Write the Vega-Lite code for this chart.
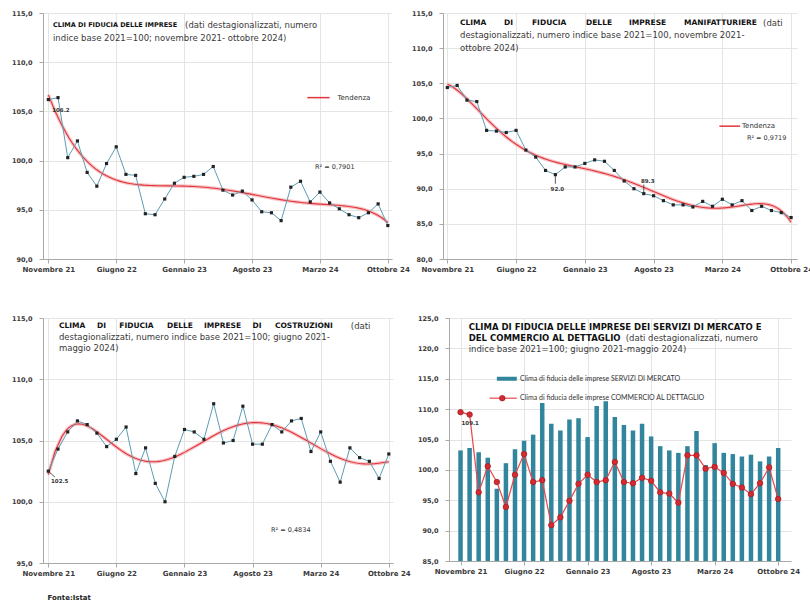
{
 "$schema": "https://vega.github.io/schema/vega-lite/v6.json",
 "background": "white",
 "padding": {"left": 11, "top": 10, "right": 0, "bottom": 0},
 "datasets": {
  "one": [{}],
  "p1": [
   {"t":0,"v":106.2},{"t":1,"v":106.4},{"t":2,"v":100.3},{"t":3,"v":102.0},{"t":4,"v":98.8},{"t":5,"v":97.4},
   {"t":6,"v":99.7},{"t":7,"v":101.4},{"t":8,"v":98.6},{"t":9,"v":98.5},{"t":10,"v":94.6},{"t":11,"v":94.5},
   {"t":12,"v":96.1},{"t":13,"v":97.7},{"t":14,"v":98.3},{"t":15,"v":98.4},{"t":16,"v":98.6},{"t":17,"v":99.4},
   {"t":18,"v":97.0},{"t":19,"v":96.5},{"t":20,"v":96.9},{"t":21,"v":96.0},{"t":22,"v":94.8},{"t":23,"v":94.7},
   {"t":24,"v":93.9},{"t":25,"v":97.3},{"t":26,"v":97.9},{"t":27,"v":95.8},{"t":28,"v":96.8},{"t":29,"v":95.7},
   {"t":30,"v":95.1},{"t":31,"v":94.5},{"t":32,"v":94.2},{"t":33,"v":94.7},{"t":34,"v":95.6},{"t":35,"v":93.4}
  ],
  "p2": [
   {"t":0,"v":104.4},{"t":1,"v":104.7},{"t":2,"v":102.6},{"t":3,"v":102.4},{"t":4,"v":98.3},{"t":5,"v":98.2},
   {"t":6,"v":98.0},{"t":7,"v":98.3},{"t":8,"v":95.5},{"t":9,"v":94.5},{"t":10,"v":92.6},{"t":11,"v":92.0},
   {"t":12,"v":93.1},{"t":13,"v":93.1},{"t":14,"v":93.6},{"t":15,"v":94.1},{"t":16,"v":93.9},{"t":17,"v":92.6},
   {"t":18,"v":91.1},{"t":19,"v":90.0},{"t":20,"v":89.3},{"t":21,"v":89.0},{"t":22,"v":88.3},{"t":23,"v":87.7},
   {"t":24,"v":87.7},{"t":25,"v":87.4},{"t":26,"v":88.2},{"t":27,"v":87.5},{"t":28,"v":88.5},{"t":29,"v":87.7},
   {"t":30,"v":88.3},{"t":31,"v":86.9},{"t":32,"v":87.5},{"t":33,"v":86.9},{"t":34,"v":86.6},{"t":35,"v":85.9}
  ],
  "p3": [
   {"t":0,"v":102.5},{"t":1,"v":104.3},{"t":2,"v":105.7},{"t":3,"v":106.6},{"t":4,"v":106.3},{"t":5,"v":105.6},
   {"t":6,"v":104.5},{"t":7,"v":105.1},{"t":8,"v":106.1},{"t":9,"v":102.3},{"t":10,"v":104.4},{"t":11,"v":101.5},
   {"t":12,"v":100.0},{"t":13,"v":103.7},{"t":14,"v":105.9},{"t":15,"v":105.7},{"t":16,"v":105.1},{"t":17,"v":108.0},
   {"t":18,"v":104.8},{"t":19,"v":105.0},{"t":20,"v":107.8},{"t":21,"v":104.7},{"t":22,"v":104.7},{"t":23,"v":106.3},
   {"t":24,"v":105.7},{"t":25,"v":106.6},{"t":26,"v":106.8},{"t":27,"v":104.1},{"t":28,"v":105.7},{"t":29,"v":103.3},
   {"t":30,"v":101.6},{"t":31,"v":104.4},{"t":32,"v":103.6},{"t":33,"v":103.3},{"t":34,"v":101.9},{"t":35,"v":103.9}
  ],
  "p4": [
   {"t":0,"s":103.2,"c":109.5},{"t":1,"s":103.6,"c":109.1},{"t":2,"s":102.9,"c":96.3},{"t":3,"s":102.0,"c":100.6},
   {"t":4,"s":96.9,"c":98.0},{"t":5,"s":101.1,"c":93.9},{"t":6,"s":103.4,"c":99.2},{"t":7,"s":104.8,"c":102.6},
   {"t":8,"s":105.8,"c":98.0},{"t":9,"s":111.0,"c":98.3},{"t":10,"s":107.6,"c":90.9},{"t":11,"s":106.5,"c":92.2},
   {"t":12,"s":108.3,"c":94.9},{"t":13,"s":108.5,"c":97.7},{"t":14,"s":105.4,"c":99.2},{"t":15,"s":110.5,"c":98.0},
   {"t":16,"s":111.3,"c":98.3},{"t":17,"s":108.7,"c":101.3},{"t":18,"s":107.4,"c":98.0},{"t":19,"s":106.5,"c":97.8},
   {"t":20,"s":107.6,"c":98.7},{"t":21,"s":105.5,"c":98.2},{"t":22,"s":103.9,"c":96.3},{"t":23,"s":103.2,"c":96.1},
   {"t":24,"s":102.8,"c":94.6},{"t":25,"s":103.9,"c":102.4},{"t":26,"s":106.4,"c":102.4},{"t":27,"s":100.8,"c":100.2},
   {"t":28,"s":104.4,"c":100.5},{"t":29,"s":102.8,"c":99.5},{"t":30,"s":102.6,"c":97.7},{"t":31,"s":102.2,"c":97.1},
   {"t":32,"s":102.5,"c":96.0},{"t":33,"s":101.4,"c":97.8},{"t":34,"s":102.2,"c":100.4},{"t":35,"s":103.6,"c":95.2}
  ]
 },
 "spacing": 43,
 "vconcat": [
  {"hconcat": [
   {"width": 349, "height": 246,
    "layer": [
     {"data": {"name": "p1"}, "transform": [{"regression": "v", "on": "t", "method": "poly", "order": 6}],
      "mark": {"type": "line", "color": "#f7c4c6", "strokeWidth": 3.5},
      "encoding": {
       "x": {"field": "t", "type": "quantitative", "scale": {"domain": [-0.55, 35.43], "nice": false, "zero": false},
             "axis": {"values": [0,7,14,21,28,35], "title": null, "grid": true, "labelExpr": "['Novembre 21','Giugno 22','Gennaio 23','Agosto 23','Marzo 24','Ottobre 24'][round(datum.value/7)]"}},
       "y": {"field": "v", "type": "quantitative", "scale": {"domain": [90, 115], "nice": false, "zero": false},
             "axis": {"values": [90,95,100,105,110,115], "tickCount": 6, "title": null, "grid": true, "labelOverlap": false, "labelSeparation": 0, "format": ".1f"}}}},
     {"data": {"name": "p1"}, "transform": [{"regression": "v", "on": "t", "method": "poly", "order": 6}],
      "mark": {"type": "line", "color": "#e0353c", "strokeWidth": 1.1},
      "encoding": {"x": {"field": "t", "type": "quantitative"}, "y": {"field": "v", "type": "quantitative"}}},
     {"data": {"name": "p1"}, "mark": {"type": "line", "color": "#5e9cb3", "strokeWidth": 1},
      "encoding": {"x": {"field": "t", "type": "quantitative"}, "y": {"field": "v", "type": "quantitative"}}},
     {"data": {"name": "p1"}, "mark": {"type": "point", "shape": "square", "filled": true, "color": "#222222", "size": 10, "opacity": 1},
      "encoding": {"x": {"field": "t", "type": "quantitative"}, "y": {"field": "v", "type": "quantitative"}}},
     {"data": {"name": "one"}, "mark": {"type": "text", "text": "CLIMA DI FIDUCIA DELLE IMPRESE", "align": "left", "baseline": "middle", "fontSize": 6.5, "fontWeight": "bold", "color": "#111111"},
      "encoding": {"x": {"datum": 0.48}, "y": {"datum": 113.8}}},
     {"data": {"name": "one"}, "mark": {"type": "text", "text": "(dati destagionalizzati, numero", "align": "left", "baseline": "middle", "fontSize": 8.5, "color": "#3a3a3a"},
      "encoding": {"x": {"datum": 14.1}, "y": {"datum": 113.8}}},
     {"data": {"name": "one"}, "mark": {"type": "text", "text": "indice base 2021=100; novembre 2021- ottobre 2024)", "align": "left", "baseline": "middle", "fontSize": 8.5, "color": "#3a3a3a"},
      "encoding": {"x": {"datum": 0.48}, "y": {"datum": 112.5}}},
     {"data": {"name": "one"}, "mark": {"type": "rule", "color": "#e0353c", "strokeWidth": 1.5},
      "encoding": {"x": {"datum": 26.7}, "x2": {"datum": 29.0}, "y": {"datum": 106.4}}},
     {"data": {"name": "one"}, "mark": {"type": "text", "text": "Tendenza", "align": "left", "baseline": "middle", "fontSize": 7, "color": "#333333"},
      "encoding": {"x": {"datum": 29.8}, "y": {"datum": 106.4}}},
     {"data": {"name": "one"}, "mark": {"type": "text", "text": "R² = 0,7901", "align": "left", "baseline": "middle", "fontSize": 6.5, "color": "#333333"},
      "encoding": {"x": {"datum": 27.5}, "y": {"datum": 99.3}}},
     {"data": {"name": "one"}, "mark": {"type": "text", "text": "106.2", "align": "left", "baseline": "middle", "fontSize": 5.5, "fontWeight": "bold", "color": "#333333"},
      "encoding": {"x": {"datum": 0.4}, "y": {"datum": 105.1}}}
    ]},
   {"width": 354, "height": 246,
    "layer": [
     {"data": {"name": "p2"}, "transform": [{"regression": "v", "on": "t", "method": "poly", "order": 6}],
      "mark": {"type": "line", "color": "#f7c4c6", "strokeWidth": 3.5},
      "encoding": {
       "x": {"field": "t", "type": "quantitative", "scale": {"domain": [-0.44, 35.6], "nice": false, "zero": false},
             "axis": {"values": [0,7,14,21,28,35], "title": null, "grid": true, "labelExpr": "['Novembre 21','Giugno 22','Gennaio 23','Agosto 23','Marzo 24','Ottobre 24'][round(datum.value/7)]"}},
       "y": {"field": "v", "type": "quantitative", "scale": {"domain": [80, 115], "nice": false, "zero": false},
             "axis": {"values": [80,85,90,95,100,105,110,115], "tickCount": 8, "title": null, "grid": true, "labelOverlap": false, "labelSeparation": 0, "format": ".1f"}}}},
     {"data": {"name": "p2"}, "transform": [{"regression": "v", "on": "t", "method": "poly", "order": 6}],
      "mark": {"type": "line", "color": "#e0353c", "strokeWidth": 1.1},
      "encoding": {"x": {"field": "t", "type": "quantitative"}, "y": {"field": "v", "type": "quantitative"}}},
     {"data": {"name": "p2"}, "mark": {"type": "line", "color": "#5e9cb3", "strokeWidth": 1},
      "encoding": {"x": {"field": "t", "type": "quantitative"}, "y": {"field": "v", "type": "quantitative"}}},
     {"data": {"name": "p2"}, "mark": {"type": "point", "shape": "square", "filled": true, "color": "#222222", "size": 10, "opacity": 1},
      "encoding": {"x": {"field": "t", "type": "quantitative"}, "y": {"field": "v", "type": "quantitative"}}},
     {"data": {"name": "one"}, "mark": {"type": "text", "text": "CLIMA", "align": "left", "baseline": "middle", "fontSize": 7.5, "fontWeight": "bold", "color": "#111111"},
      "encoding": {"x": {"datum": 1.29}, "y": {"datum": 113.58}}},
     {"data": {"name": "one"}, "mark": {"type": "text", "text": "DI", "align": "left", "baseline": "middle", "fontSize": 7.5, "fontWeight": "bold", "color": "#111111"},
      "encoding": {"x": {"datum": 5.77}, "y": {"datum": 113.58}}},
     {"data": {"name": "one"}, "mark": {"type": "text", "text": "FIDUCIA", "align": "left", "baseline": "middle", "fontSize": 7.5, "fontWeight": "bold", "color": "#111111"},
      "encoding": {"x": {"datum": 8.62}, "y": {"datum": 113.58}}},
     {"data": {"name": "one"}, "mark": {"type": "text", "text": "DELLE", "align": "left", "baseline": "middle", "fontSize": 7.5, "fontWeight": "bold", "color": "#111111"},
      "encoding": {"x": {"datum": 14.12}, "y": {"datum": 113.58}}},
     {"data": {"name": "one"}, "mark": {"type": "text", "text": "IMPRESE", "align": "left", "baseline": "middle", "fontSize": 7.5, "fontWeight": "bold", "color": "#111111"},
      "encoding": {"x": {"datum": 18.5}, "y": {"datum": 113.58}}},
     {"data": {"name": "one"}, "mark": {"type": "text", "text": "MANIFATTURIERE", "align": "left", "baseline": "middle", "fontSize": 7.5, "fontWeight": "bold", "color": "#111111"},
      "encoding": {"x": {"datum": 24.1}, "y": {"datum": 113.58}}},
     {"data": {"name": "one"}, "mark": {"type": "text", "text": "(dati", "align": "left", "baseline": "middle", "fontSize": 8.5, "color": "#3a3a3a"},
      "encoding": {"x": {"datum": 32.15}, "y": {"datum": 113.58}}},
     {"data": {"name": "one"}, "mark": {"type": "text", "text": "destagionalizzati, numero indice base 2021=100, novembre 2021-", "align": "left", "baseline": "middle", "fontSize": 8.5, "color": "#3a3a3a"},
      "encoding": {"x": {"datum": 1.29}, "y": {"datum": 111.8}}},
     {"data": {"name": "one"}, "mark": {"type": "text", "text": "ottobre 2024)", "align": "left", "baseline": "middle", "fontSize": 8.5, "color": "#3a3a3a"},
      "encoding": {"x": {"datum": 1.29}, "y": {"datum": 110.0}}},
     {"data": {"name": "one"}, "mark": {"type": "rule", "color": "#e0353c", "strokeWidth": 1.5},
      "encoding": {"x": {"datum": 27.7}, "x2": {"datum": 29.8}, "y": {"datum": 98.9}}},
     {"data": {"name": "one"}, "mark": {"type": "text", "text": "Tendenza", "align": "left", "baseline": "middle", "fontSize": 7, "color": "#333333"},
      "encoding": {"x": {"datum": 30.0}, "y": {"datum": 98.9}}},
     {"data": {"name": "one"}, "mark": {"type": "text", "text": "R² = 0,9719", "align": "left", "baseline": "middle", "fontSize": 6.5, "color": "#333333"},
      "encoding": {"x": {"datum": 30.5}, "y": {"datum": 97.2}}},
     {"data": {"name": "one"}, "mark": {"type": "rule", "color": "#333333", "strokeWidth": 0.8},
      "encoding": {"x": {"datum": 11}, "y": {"datum": 91.8}, "y2": {"datum": 90.7}}},
     {"data": {"name": "one"}, "mark": {"type": "text", "text": "92.0", "align": "center", "baseline": "middle", "fontSize": 5.5, "fontWeight": "bold", "color": "#333333"},
      "encoding": {"x": {"datum": 11.2}, "y": {"datum": 90.0}}},
     {"data": {"name": "one"}, "mark": {"type": "rule", "color": "#333333", "strokeWidth": 0.8},
      "encoding": {"x": {"datum": 20}, "y": {"datum": 89.5}, "y2": {"datum": 90.6}}},
     {"data": {"name": "one"}, "mark": {"type": "text", "text": "89.3", "align": "center", "baseline": "middle", "fontSize": 5.5, "fontWeight": "bold", "color": "#333333"},
      "encoding": {"x": {"datum": 20.4}, "y": {"datum": 91.1}}}
    ]}
  ], "spacing": 1},
  {"hconcat": [
   {"width": 350, "height": 245,
    "layer": [
     {"data": {"name": "p3"}, "transform": [{"regression": "v", "on": "t", "method": "poly", "order": 6}],
      "mark": {"type": "line", "color": "#f7c4c6", "strokeWidth": 3.5},
      "encoding": {
       "x": {"field": "t", "type": "quantitative", "scale": {"domain": [-0.54, 35.43], "nice": false, "zero": false},
             "axis": {"values": [0,7,14,21,28,35], "grid": true, "labelExpr": "['Novembre 21','Giugno 22','Gennaio 23','Agosto 23','Marzo 24','Ottobre 24'][round(datum.value/7)]",
                      "title": "Fonte:Istat", "titleAnchor": "start", "titleAlign": "left", "titleBaseline": "middle", "titleX": 4, "titleY": 34, "titleFontSize": 7, "titleFontWeight": "bold", "titleColor": "#222222", "titleFont": "DejaVu Sans"}},
       "y": {"field": "v", "type": "quantitative", "scale": {"domain": [95, 115], "nice": false, "zero": false},
             "axis": {"values": [95,100,105,110,115], "tickCount": 5, "title": null, "grid": true, "labelOverlap": false, "labelSeparation": 0, "format": ".1f"}}}},
     {"data": {"name": "p3"}, "transform": [{"regression": "v", "on": "t", "method": "poly", "order": 6}],
      "mark": {"type": "line", "color": "#e0353c", "strokeWidth": 1.1},
      "encoding": {"x": {"field": "t", "type": "quantitative"}, "y": {"field": "v", "type": "quantitative"}}},
     {"data": {"name": "p3"}, "mark": {"type": "line", "color": "#5e9cb3", "strokeWidth": 1},
      "encoding": {"x": {"field": "t", "type": "quantitative"}, "y": {"field": "v", "type": "quantitative"}}},
     {"data": {"name": "p3"}, "mark": {"type": "point", "shape": "square", "filled": true, "color": "#222222", "size": 10, "opacity": 1},
      "encoding": {"x": {"field": "t", "type": "quantitative"}, "y": {"field": "v", "type": "quantitative"}}},
     {"data": {"name": "one"}, "mark": {"type": "text", "text": "CLIMA", "align": "left", "baseline": "middle", "fontSize": 7.5, "fontWeight": "bold", "color": "#111111"},
      "encoding": {"x": {"datum": 1.1}, "y": {"datum": 114.32}}},
     {"data": {"name": "one"}, "mark": {"type": "text", "text": "DI", "align": "left", "baseline": "middle", "fontSize": 7.5, "fontWeight": "bold", "color": "#111111"},
      "encoding": {"x": {"datum": 5.0}, "y": {"datum": 114.32}}},
     {"data": {"name": "one"}, "mark": {"type": "text", "text": "FIDUCIA", "align": "left", "baseline": "middle", "fontSize": 7.5, "fontWeight": "bold", "color": "#111111"},
      "encoding": {"x": {"datum": 7.3}, "y": {"datum": 114.32}}},
     {"data": {"name": "one"}, "mark": {"type": "text", "text": "DELLE", "align": "left", "baseline": "middle", "fontSize": 7.5, "fontWeight": "bold", "color": "#111111"},
      "encoding": {"x": {"datum": 12.2}, "y": {"datum": 114.32}}},
     {"data": {"name": "one"}, "mark": {"type": "text", "text": "IMPRESE", "align": "left", "baseline": "middle", "fontSize": 7.5, "fontWeight": "bold", "color": "#111111"},
      "encoding": {"x": {"datum": 16.0}, "y": {"datum": 114.32}}},
     {"data": {"name": "one"}, "mark": {"type": "text", "text": "DI", "align": "left", "baseline": "middle", "fontSize": 7.5, "fontWeight": "bold", "color": "#111111"},
      "encoding": {"x": {"datum": 21.0}, "y": {"datum": 114.32}}},
     {"data": {"name": "one"}, "mark": {"type": "text", "text": "COSTRUZIONI", "align": "left", "baseline": "middle", "fontSize": 7.5, "fontWeight": "bold", "color": "#111111"},
      "encoding": {"x": {"datum": 23.3}, "y": {"datum": 114.32}}},
     {"data": {"name": "one"}, "mark": {"type": "text", "text": "(dati", "align": "left", "baseline": "middle", "fontSize": 8.5, "color": "#3a3a3a"},
      "encoding": {"x": {"datum": 31.1}, "y": {"datum": 114.32}}},
     {"data": {"name": "one"}, "mark": {"type": "text", "text": "destagionalizzati, numero indice base 2021=100; giugno 2021-", "align": "left", "baseline": "middle", "fontSize": 8.5, "color": "#3a3a3a"},
      "encoding": {"x": {"datum": 1.1}, "y": {"datum": 113.45}}},
     {"data": {"name": "one"}, "mark": {"type": "text", "text": "maggio 2024)", "align": "left", "baseline": "middle", "fontSize": 8.5, "color": "#3a3a3a"},
      "encoding": {"x": {"datum": 1.1}, "y": {"datum": 112.55}}},
     {"data": {"name": "one"}, "mark": {"type": "text", "text": "R² = 0,4834", "align": "left", "baseline": "middle", "fontSize": 6.5, "color": "#333333"},
      "encoding": {"x": {"datum": 22.9}, "y": {"datum": 97.7}}},
     {"data": {"name": "one"}, "mark": {"type": "rule", "color": "#333333", "strokeWidth": 0.8},
      "encoding": {"x": {"datum": 0}, "x2": {"datum": 0.7}, "y": {"datum": 102.5}, "y2": {"datum": 102.0}}},
     {"data": {"name": "one"}, "mark": {"type": "text", "text": "102.5", "align": "left", "baseline": "middle", "fontSize": 5.5, "fontWeight": "bold", "color": "#333333"},
      "encoding": {"x": {"datum": 0.28}, "y": {"datum": 101.67}}}
    ]},
   {"width": 342, "height": 243,
    "layer": [
     {"data": {"name": "p4"}, "mark": {"type": "bar", "color": "#31859c", "size": 4.5},
      "encoding": {
       "x": {"field": "t", "type": "quantitative", "scale": {"domain": [-0.72, 35.86], "nice": false, "zero": false},
             "axis": {"values": [0,7,14,21,28,35], "title": null, "grid": true, "labelExpr": "['Novembre 21','Giugno 22','Gennaio 23','Agosto 23','Marzo 24','Ottobre 24'][round(datum.value/7)]"}},
       "y": {"field": "s", "type": "quantitative", "scale": {"domain": [85, 125], "nice": false, "zero": false},
             "axis": {"values": [85,90,95,100,105,110,115,120,125], "tickCount": 9, "title": null, "grid": true, "labelOverlap": false, "labelSeparation": 0, "format": ".1f"}},
       "y2": {"datum": 85}}},
     {"data": {"name": "p4"}, "mark": {"type": "line", "color": "#e8474c", "strokeWidth": 1.2},
      "encoding": {"x": {"field": "t", "type": "quantitative"}, "y": {"field": "c", "type": "quantitative"}}},
     {"data": {"name": "p4"}, "mark": {"type": "point", "shape": "circle", "filled": true, "color": "#d42a32", "stroke": "#a51e25", "strokeWidth": 0.8, "size": 30, "opacity": 1},
      "encoding": {"x": {"field": "t", "type": "quantitative"}, "y": {"field": "c", "type": "quantitative"}}},
     {"data": {"name": "one"}, "mark": {"type": "text", "text": "CLIMA DI FIDUCIA DELLE IMPRESE DEI SERVIZI DI MERCATO E", "align": "left", "baseline": "middle", "fontSize": 8.5, "fontWeight": "bold", "color": "#111111"},
      "encoding": {"x": {"datum": 0.9}, "y": {"datum": 123.47}}},
     {"data": {"name": "one"}, "mark": {"type": "text", "text": "DEL COMMERCIO AL DETTAGLIO", "align": "left", "baseline": "middle", "fontSize": 8.5, "fontWeight": "bold", "color": "#111111"},
      "encoding": {"x": {"datum": 0.9}, "y": {"datum": 121.66}}},
     {"data": {"name": "one"}, "mark": {"type": "text", "text": "(dati destagionalizzati, numero", "align": "left", "baseline": "middle", "fontSize": 8.5, "color": "#3a3a3a"},
      "encoding": {"x": {"datum": 18.2}, "y": {"datum": 121.66}}},
     {"data": {"name": "one"}, "mark": {"type": "text", "text": "indice base 2021=100; giugno 2021-maggio 2024)", "align": "left", "baseline": "middle", "fontSize": 8.5, "color": "#3a3a3a"},
      "encoding": {"x": {"datum": 0.9}, "y": {"datum": 119.9}}},
     {"data": {"name": "one"}, "mark": {"type": "rule", "color": "#31859c", "strokeWidth": 4},
      "encoding": {"x": {"datum": 4.0}, "x2": {"datum": 6.2}, "y": {"datum": 115.0}}},
     {"data": {"name": "one"}, "mark": {"type": "text", "text": "Clima di fiducia delle imprese SERVIZI DI MERCATO", "align": "left", "baseline": "middle", "fontSize": 7, "font": "Lato", "color": "#333333"},
      "encoding": {"x": {"datum": 6.55}, "y": {"datum": 115.0}}},
     {"data": {"name": "one"}, "mark": {"type": "rule", "color": "#e8474c", "strokeWidth": 1.2},
      "encoding": {"x": {"datum": 3.2}, "x2": {"datum": 6.2}, "y": {"datum": 111.8}}},
     {"data": {"name": "one"}, "mark": {"type": "point", "shape": "circle", "filled": true, "color": "#d42a32", "stroke": "#a51e25", "strokeWidth": 0.8, "size": 30, "opacity": 1},
      "encoding": {"x": {"datum": 4.6}, "y": {"datum": 111.8}}},
     {"data": {"name": "one"}, "mark": {"type": "text", "text": "Clima di fiducia delle imprese COMMERCIO AL DETTAGLIO", "align": "left", "baseline": "middle", "fontSize": 7, "font": "Lato", "color": "#333333"},
      "encoding": {"x": {"datum": 6.55}, "y": {"datum": 111.8}}},
     {"data": {"name": "one"}, "mark": {"type": "text", "text": "109.1", "align": "center", "baseline": "middle", "fontSize": 5.5, "fontWeight": "bold", "color": "#333333"},
      "encoding": {"x": {"datum": 1.07}, "y": {"datum": 107.7}}}
    ]}
  ], "spacing": 6}
 ],
 "config": {
  "font": "DejaVu Sans",
  "locale": {"number": {"decimal": ",", "thousands": ".", "grouping": [3], "currency": ["", " €"]}},
  "view": {"stroke": null},
  "axis": {"gridColor": "#e4e4e4", "domainColor": "#a8a8a8", "tickColor": "#a8a8a8", "labelColor": "#3a3a3a", "labelFontWeight": "bold", "labelFont": "DejaVu Sans"},
  "axisX": {"labelFontSize": 7, "tickSize": 4, "labelPadding": 2, "labelOverlap": false, "labelFlush": false},
  "axisY": {"labelFontSize": 6.5, "tickSize": 4, "labelPadding": 7, "labelOverlap": false},
  "text": {"font": "DejaVu Sans"}
 }
}
